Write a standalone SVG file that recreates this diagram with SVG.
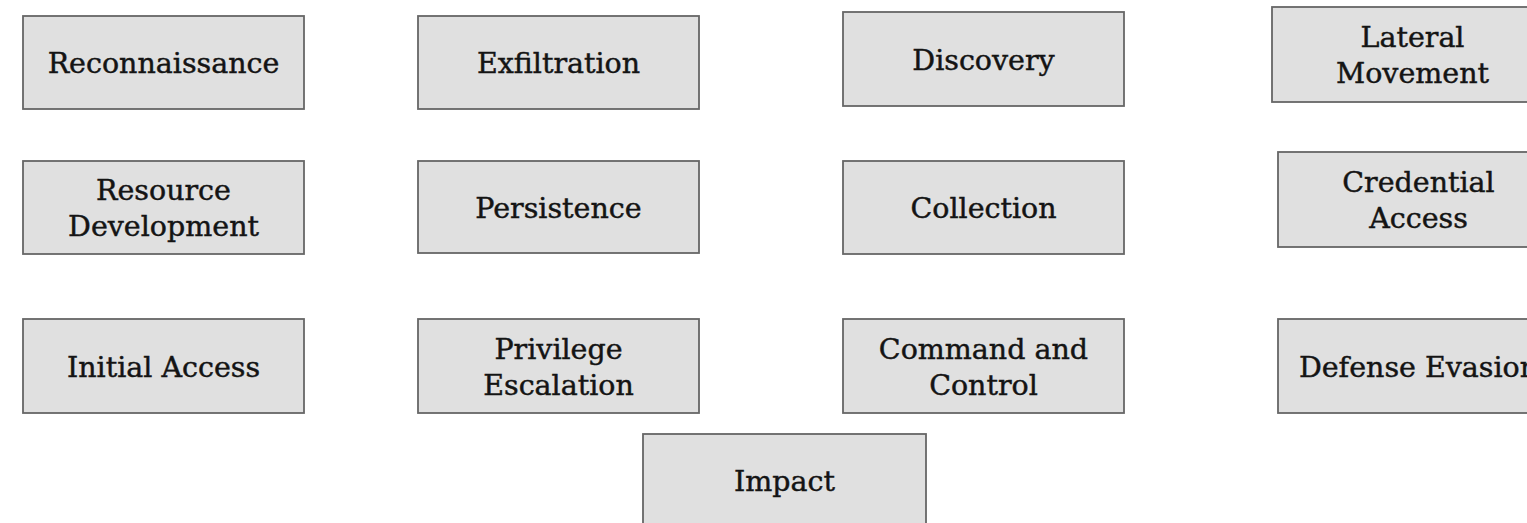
<svg xmlns="http://www.w3.org/2000/svg" width="1527" height="523" viewBox="0 0 1527 523">
<style>
.box{fill:#e0e0e0;stroke:#666666;stroke-width:1.8}
.lbl{font-family:"DejaVu Serif","Liberation Serif",serif;font-size:28.5px;fill:#141414;stroke:#141414;stroke-width:0.45;text-anchor:middle}
</style>
<rect width="1527" height="523" fill="#ffffff"/>
<g id="connectors"></g>
<g id="reconnaissance"><rect class="box" x="23" y="16" width="281" height="93"/><text class="lbl" x="163.5" y="73">Reconnaissance</text></g>
<g id="exfiltration"><rect class="box" x="418" y="16" width="281" height="93"/><text class="lbl" x="558.5" y="73">Exfiltration</text></g>
<g id="discovery"><rect class="box" x="843" y="12" width="281" height="94"/><text class="lbl" x="983.5" y="69.5">Discovery</text></g>
<g id="lateral-movement"><rect class="box" x="1272" y="7" width="281" height="95"/><text class="lbl" x="1412.5" y="47">Lateral</text><text class="lbl" x="1412.5" y="83">Movement</text></g>
<g id="resource-development"><rect class="box" x="23" y="161" width="281" height="93"/><text class="lbl" x="163.5" y="200">Resource</text><text class="lbl" x="163.5" y="236">Development</text></g>
<g id="persistence"><rect class="box" x="418" y="161" width="281" height="92"/><text class="lbl" x="558.5" y="217.5">Persistence</text></g>
<g id="collection"><rect class="box" x="843" y="161" width="281" height="93"/><text class="lbl" x="983.5" y="218">Collection</text></g>
<g id="credential-access"><rect class="box" x="1278" y="152" width="281" height="95"/><text class="lbl" x="1418.5" y="192">Credential</text><text class="lbl" x="1418.5" y="228">Access</text></g>
<g id="initial-access"><rect class="box" x="23" y="319" width="281" height="94"/><text class="lbl" x="163.5" y="376.5">Initial Access</text></g>
<g id="privilege-escalation"><rect class="box" x="418" y="319" width="281" height="94"/><text class="lbl" x="558.5" y="358.5">Privilege</text><text class="lbl" x="558.5" y="394.5">Escalation</text></g>
<g id="command-and-control"><rect class="box" x="843" y="319" width="281" height="94"/><text class="lbl" x="983.5" y="358.5">Command and</text><text class="lbl" x="983.5" y="394.5">Control</text></g>
<g id="defense-evasion"><rect class="box" x="1278" y="319" width="281" height="94"/><text class="lbl" x="1418.5" y="376.5">Defense Evasion</text></g>
<g id="impact"><rect class="box" x="643" y="434" width="283" height="95"/><text class="lbl" x="784.5" y="491">Impact</text></g>
</svg>
